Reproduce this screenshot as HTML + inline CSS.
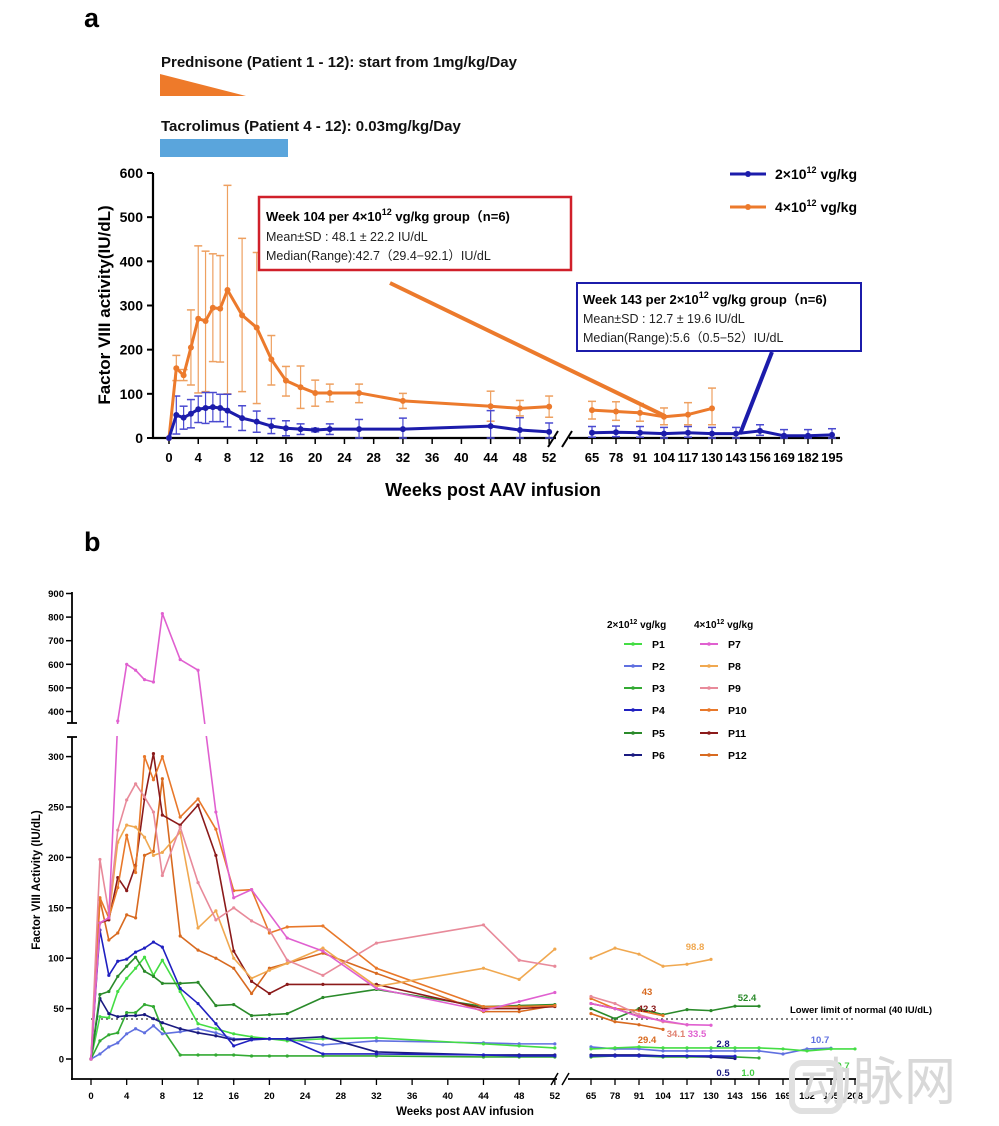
<!DOCTYPE html>
<html><head><meta charset="utf-8">
<style>
body{margin:0;background:#fff;width:999px;height:1126px;overflow:hidden;font-family:"Liberation Sans",sans-serif}
svg{position:absolute;left:0;top:0}
text{font-family:"Liberation Sans","Noto Sans CJK SC",sans-serif}
</style></head><body>
<svg id="s" width="999" height="1126" viewBox="0 0 999 1126" xmlns="http://www.w3.org/2000/svg">
<text x="84" y="27" font-size="27" font-weight="bold">a</text>
<text x="161" y="67" font-size="15" font-weight="bold" fill="#111">Prednisone (Patient 1 - 12): start from 1mg/kg/Day</text>
<polygon points="160,74 160,96 246,96" fill="#ee7a2a"/>
<text x="161" y="131" font-size="15" font-weight="bold" fill="#111">Tacrolimus (Patient 4 - 12): 0.03mg/kg/Day</text>
<rect x="160" y="139" width="128" height="18" fill="#5aa5dc"/>
<g id="ga"></g>
<text x="84" y="551" font-size="27" font-weight="bold">b</text>
<g id="gb"></g>
<text x="800" y="1100" font-size="52" fill="#d8d8d8" font-family="'Noto Sans CJK SC',sans-serif">动脉网</text>
<rect x="792" y="1063" width="48" height="48" rx="10" fill="none" stroke="#e0e0e0" stroke-width="6"/>
</svg>
<script>
const NS="http://www.w3.org/2000/svg";
function el(p,t,a,txt){const e=document.createElementNS(NS,t);for(const k in a)e.setAttribute(k,a[k]);if(txt!==undefined)e.textContent=txt;p.appendChild(e);return e;}
const ga=document.getElementById('ga'),gb=document.getElementById('gb');
// ===== chart a =====
const ay=v=>438-v*0.4417;
const ax=w=>w<=52?169+w*7.31:592+(w-65)/13*24;
// axes
el(ga,'line',{x1:153,y1:173,x2:153,y2:439,stroke:'#000','stroke-width':2.2});
el(ga,'line',{x1:152,y1:438,x2:556,y2:438,stroke:'#000','stroke-width':2.2});
el(ga,'line',{x1:569,y1:438,x2:840,y2:438,stroke:'#000','stroke-width':2.2});
el(ga,'line',{x1:548,y1:447,x2:558,y2:431,stroke:'#000','stroke-width':2});
el(ga,'line',{x1:562,y1:447,x2:572,y2:431,stroke:'#000','stroke-width':2});
for(let v=0;v<=600;v+=100){el(ga,'line',{x1:147,y1:ay(v),x2:153,y2:ay(v),stroke:'#000','stroke-width':2});
 el(ga,'text',{x:143,y:ay(v)+5,'font-size':14,'font-weight':'bold','text-anchor':'end'},v);}
for(let w=0;w<=52;w+=4){el(ga,'line',{x1:ax(w),y1:438,x2:ax(w),y2:444,stroke:'#000','stroke-width':1.5});
 el(ga,'text',{x:ax(w),y:462,'font-size':13,'font-weight':'bold','text-anchor':'middle'},w);}
[65,78,91,104,117,130,143,156,169,182,195].forEach(w=>{el(ga,'line',{x1:ax(w),y1:438,x2:ax(w),y2:444,stroke:'#000','stroke-width':1.5});
 el(ga,'text',{x:ax(w),y:462,'font-size':13,'font-weight':'bold','text-anchor':'middle','font-family':'Liberation Serif,serif'},w);});
el(ga,'text',{x:493,y:496,'font-size':18,'font-weight':'bold','text-anchor':'middle'},'Weeks post AAV infusion');
el(ga,'text',{x:0,y:0,'font-size':17,'font-weight':'bold','text-anchor':'middle',transform:'translate(110,305) rotate(-90)'},'Factor VIII activity(IU/dL)');
const W1=[0,1,2,3,4,5,6,7,8,10,12,14,16,18,20,22,26,32,44,48,52];
const orM=[0,158,142,205,270,265,295,293,335,278,250,178,130,115,102,102,102,84,72,67,71];
const orT=[0,187,155,290,435,423,417,413,572,452,420,232,162,163,131,122,122,101,106,85,95];
const orB=[0,130,130,120,102,105,173,172,100,105,78,120,95,67,72,82,80,67,38,50,47];
const orR=[[65,63,83,43],[78,60,82,40],[91,57,78,38],[104,48,68,30],[117,53,80,30],[130,67,113,30]];
const blM=[0,52,46,55,65,68,70,68,62,45,37,27,22,20,18,20,20,20,27,18,14];
const blE=[0,43,26,32,30,35,33,31,37,28,24,17,17,12,4,12,22,25,35,28,20];
const blR=[[65,12],[78,13],[91,12],[104,10],[117,12],[130,10],[143,10],[156,16],[169,5],[182,5],[195,7]];
function eb(g,x,t,b,c,w){el(g,'line',{x1:x,y1:ay(t),x2:x,y2:ay(b),stroke:c,'stroke-width':1.2});
 el(g,'line',{x1:x-4,y1:ay(t),x2:x+4,y2:ay(t),stroke:c,'stroke-width':1.5});el(g,'line',{x1:x-4,y1:ay(b),x2:x+4,y2:ay(b),stroke:c,'stroke-width':1.5});}
const OC='#ec7a2c',BC='#1c1cab';
W1.forEach((w,i)=>{if(i)eb(ga,ax(w),orT[i],orB[i],'#eea060');});
orR.forEach(r=>eb(ga,ax(r[0]),r[2],r[3],'#eea060'));
W1.forEach((w,i)=>{if(i)eb(ga,ax(w),blM[i]+blE[i],Math.max(0,blM[i]-blE[i]),'#4a4ad0');});
blR.forEach(r=>eb(ga,ax(r[0]),r[1]+14,Math.max(0,r[1]-10),'#4a4ad0'));
function pl(g,pts,c,sw,r){el(g,'polyline',{points:pts.map(p=>p.join(',')).join(' '),fill:'none',stroke:c,'stroke-width':sw,'stroke-linejoin':'round'});
 pts.forEach(p=>el(g,'circle',{cx:p[0],cy:p[1],r:r,fill:c}));}
pl(ga,W1.map((w,i)=>[ax(w),ay(orM[i])]),OC,3,3);
pl(ga,orR.map(r=>[ax(r[0]),ay(r[1])]),OC,3,3);
pl(ga,W1.map((w,i)=>[ax(w),ay(blM[i])]),BC,3,3);
pl(ga,blR.map(r=>[ax(r[0]),ay(r[1])]),BC,3,3);
// boxes
el(ga,'line',{x1:390,y1:283,x2:665,y2:416,stroke:OC,'stroke-width':4});
el(ga,'line',{x1:772,y1:352,x2:740,y2:434,stroke:BC,'stroke-width':4});
el(ga,'rect',{x:259,y:197,width:312,height:73,fill:'#fff',stroke:'#d0202a','stroke-width':2.5});
let t=el(ga,'text',{x:266,y:221,'font-size':13,'font-weight':'bold'});t.innerHTML='Week 104 per 4×10<tspan dy="-6" font-size="9">12</tspan><tspan dy="6"> vg/kg group（n=6)</tspan>';
el(ga,'text',{x:266,y:241,'font-size':12.5,fill:'#222'},'Mean±SD : 48.1 ± 22.2 IU/dL');
el(ga,'text',{x:266,y:260,'font-size':12.5,fill:'#222'},'Median(Range):42.7（29.4−92.1）IU/dL');
el(ga,'rect',{x:577,y:283,width:284,height:68,fill:'#fff',stroke:'#1c1caa','stroke-width':2});
t=el(ga,'text',{x:583,y:304,'font-size':13,'font-weight':'bold'});t.innerHTML='Week 143 per 2×10<tspan dy="-6" font-size="9">12</tspan><tspan dy="6"> vg/kg group（n=6)</tspan>';
el(ga,'text',{x:583,y:323,'font-size':12.5,fill:'#222'},'Mean±SD : 12.7 ± 19.6 IU/dL');
el(ga,'text',{x:583,y:342,'font-size':12.5,fill:'#222'},'Median(Range):5.6（0.5−52）IU/dL');
// legend a
pl(ga,[[730,174],[766,174]],BC,3,0);el(ga,'circle',{cx:748,cy:174,r:3,fill:BC});
pl(ga,[[730,207],[766,207]],OC,3,0);el(ga,'circle',{cx:748,cy:207,r:3,fill:OC});
t=el(ga,'text',{x:775,y:179,'font-size':14,'font-weight':'bold'});t.innerHTML='2×10<tspan dy="-6" font-size="9">12</tspan><tspan dy="6"> vg/kg</tspan>';
t=el(ga,'text',{x:775,y:212,'font-size':14,'font-weight':'bold'});t.innerHTML='4×10<tspan dy="-6" font-size="9">12</tspan><tspan dy="6"> vg/kg</tspan>';

// ===== chart b =====
const by=v=>v<=340?1059-v*1.008:711.5-(v-400)*0.236;
const bx=w=>w<=52?91+w*8.92:591+(w-65)/13*24;
el(gb,'line',{x1:72,y1:592,x2:72,y2:723,stroke:'#000','stroke-width':1.8});
el(gb,'line',{x1:67,y1:723,x2:77,y2:723,stroke:'#000','stroke-width':1.8});
el(gb,'line',{x1:72,y1:737,x2:72,y2:1080,stroke:'#000','stroke-width':1.8});
el(gb,'line',{x1:67,y1:737,x2:77,y2:737,stroke:'#000','stroke-width':1.8});
el(gb,'line',{x1:71,y1:1079,x2:557,y2:1079,stroke:'#000','stroke-width':1.8});
el(gb,'line',{x1:568,y1:1079,x2:856,y2:1079,stroke:'#000','stroke-width':1.8});
el(gb,'line',{x1:551,y1:1085,x2:558,y2:1073,stroke:'#000','stroke-width':1.5});
el(gb,'line',{x1:562,y1:1085,x2:569,y2:1073,stroke:'#000','stroke-width':1.5});
[400,500,600,700,800,900].forEach(v=>{el(gb,'line',{x1:66,y1:by(v),x2:72,y2:by(v),stroke:'#000','stroke-width':1.5});
 el(gb,'text',{x:64,y:by(v)+3.5,'font-size':9.5,'font-weight':'bold','text-anchor':'end'},v);});
[0,50,100,150,200,250,300].forEach(v=>{el(gb,'line',{x1:66,y1:by(v),x2:72,y2:by(v),stroke:'#000','stroke-width':1.5});
 el(gb,'text',{x:64,y:by(v)+3.5,'font-size':9.5,'font-weight':'bold','text-anchor':'end'},v);});
for(let w=0;w<=52;w+=4){el(gb,'line',{x1:bx(w),y1:1079,x2:bx(w),y2:1085,stroke:'#000','stroke-width':1.3});
 el(gb,'text',{x:bx(w),y:1099,'font-size':9.5,'font-weight':'bold','text-anchor':'middle'},w);}
[65,78,91,104,117,130,143,156,169,182,195,208].forEach(w=>{el(gb,'line',{x1:bx(w),y1:1079,x2:bx(w),y2:1085,stroke:'#000','stroke-width':1.3});
 el(gb,'text',{x:bx(w),y:1099,'font-size':9.5,'font-weight':'bold','text-anchor':'middle'},w);});
el(gb,'text',{x:465,y:1115,'font-size':11.5,'font-weight':'bold','text-anchor':'middle'},'Weeks post AAV infusion');
el(gb,'text',{x:0,y:0,'font-size':11.5,'font-weight':'bold','text-anchor':'middle',transform:'translate(40,880) rotate(-90)'},'Factor VIII Activity (IU/dL)');
el(gb,'line',{x1:91,y1:1019,x2:856,y2:1019,stroke:'#333','stroke-width':1.3,'stroke-dasharray':'2,3'});
el(gb,'text',{x:790,y:1013,'font-size':9.5,'font-weight':'bold'},'Lower limit of normal (40 IU/dL)');
const P={
P7:['#e060d0',[0,135,140,360,600,575,535,525,815,620,575,245,160,null,168,null,120,107,70,48,57,66],[[65,55],[78,50],[91,42],[104,38],[117,34],[130,33.5]]],
P9:['#e88a9a',[0,198,145,227,257,273,260,245,182,230,175,138,150,137,128,98,83,115,133,98,92],[[65,62],[78,55],[91,44],[104,37],[117,34]]],
P8:['#f0a850',[0,135,140,215,232,230,220,202,205,225,130,147,100,80,88,95,110,72,90,79,109],[[65,100],[78,110],[91,104],[104,92],[117,94],[130,98.8]]],
P10:['#e8782a',[0,160,140,170,222,185,300,277,300,240,258,228,167,168,125,131,132,90,52,52,53],[[65,60],[78,50],[91,48],[104,43]]],
P12:['#d86a20',[0,158,118,125,143,140,202,206,278,122,108,100,90,65,90,95,105,85,47,47,53],[[65,45],[78,37],[91,34],[104,29.4]]],
P11:['#8b1a1a',[0,135,138,180,167,192,258,303,242,232,252,202,107,77,65,74,74,74,50,50,52],[[65,55],[78,50],[91,42.3]]],
P5:['#2a8a2a',[0,64,67,82,92,101,87,82,75,75,76,53,54,43,44,45,61,69,52,53,54],[[65,50],[78,40],[91,50],[104,44],[117,49],[130,48],[143,52.4],[156,52.4]]],
P4:['#2020c0',[0,128,83,97,99,106,110,116,111,70,55,35,13,19,20,20,5,5,4,3,3],[[65,3],[78,3],[91,3],[104,3],[117,3],[130,3],[143,2.8]]],
P6:['#1a1a80',[0,60,45,42,43,43,44,40,36,30,26,23,19,20,20,20,22,7,4,4,4],[[65,4],[78,4],[91,4],[104,3],[117,3],[130,2],[143,0.5]]],
P1:['#44dd44',[0,42,41,67,80,90,101,83,98,67,35,30,25,22,20,18,20,21,15,13,11],[[65,10],[78,11],[91,12],[104,11],[117,11],[130,11],[143,11],[156,11],[169,10],[182,8],[195,10],[208,10]]],
P2:['#6070e0',[0,5,12,16,25,30,26,33,25,27,30,26,20,20,20,20,14,18,16,15,15],[[65,12],[78,10],[91,10],[104,8],[117,8],[130,8],[143,8],[156,8],[169,5],[182,10],[195,10.7]]],
P3:['#33aa33',[0,18,24,26,46,46,54,52,30,4,4,4,4,3,3,3,3,3,2,2,2],[[65,2],[78,3],[91,3],[104,2],[117,2],[130,2],[143,2],[156,1]]]
};
const order=['P3','P2','P1','P6','P4','P5','P12','P11','P10','P8','P9','P7'];
const W1b=[0,1,2,3,4,5,6,7,8,10,12,14,16,18,20,22,26,32,44,48,52];
order.forEach(k=>{const [c,d,r]=P[k];let pts=[];
 if(k==='P7'){const ww=[0,1,2,3,4,5,6,7,8,10,12,14,16,18,22,26,32,44,48,52];const vv=[0,135,140,360,600,575,535,525,815,620,575,245,160,168,120,107,70,48,57,66];pts=ww.map((w,i)=>[bx(w),by(vv[i])]);}
 else pts=W1b.map((w,i)=>[bx(w),by(d[i])]);
 pl(gb,pts,c,1.6,1.6);pl(gb,r.map(p=>[bx(p[0]),by(p[1])]),c,1.6,1.6);});
// gap mask between axes
el(gb,'rect',{x:73,y:724,width:490,height:12,fill:'#fff'});
// labels
[['98.8',695,950,'#f0a850'],['43',647,995,'#d86a20'],['42.3',647,1012,'#8b1a1a'],['52.4',747,1001,'#2a8a2a'],['29.4',647,1043,'#d86a20'],
 ['34.1',676,1037,'#e08070'],['33.5',697,1037,'#e060d0'],['2.8',723,1047,'#1a1a80'],['10.7',820,1043,'#6070e0'],['0.5',723,1076,'#1a1a80'],
 ['1.0',748,1076,'#44cc44'],['9.7',843,1069,'#44cc44']].forEach(a=>el(gb,'text',{x:a[1],y:a[2],'font-size':9.5,'font-weight':'bold','text-anchor':'middle',fill:a[3]},a[0]));
// legend b
t=el(gb,'text',{x:607,y:628,'font-size':10,'font-weight':'bold'});t.innerHTML='2×10<tspan dy="-4" font-size="7">12</tspan><tspan dy="4"> vg/kg</tspan>';
t=el(gb,'text',{x:694,y:628,'font-size':10,'font-weight':'bold'});t.innerHTML='4×10<tspan dy="-4" font-size="7">12</tspan><tspan dy="4"> vg/kg</tspan>';
const L=['P1','P2','P3','P4','P5','P6'],R=['P7','P8','P9','P10','P11','P12'],ys=[644,666,688,710,733,755];
ys.forEach((y,i)=>{[[L[i],624,652],[R[i],700,728]].forEach(([k,x0,tx])=>{const c=P[k][0];
 el(gb,'line',{x1:x0,y1:y,x2:x0+18,y2:y,stroke:c,'stroke-width':2});el(gb,'circle',{cx:x0+9,cy:y,r:1.8,fill:c});
 el(gb,'text',{x:tx,y:y+4,'font-size':10.5,'font-weight':'bold'},k);});});
</script>
</body></html>
